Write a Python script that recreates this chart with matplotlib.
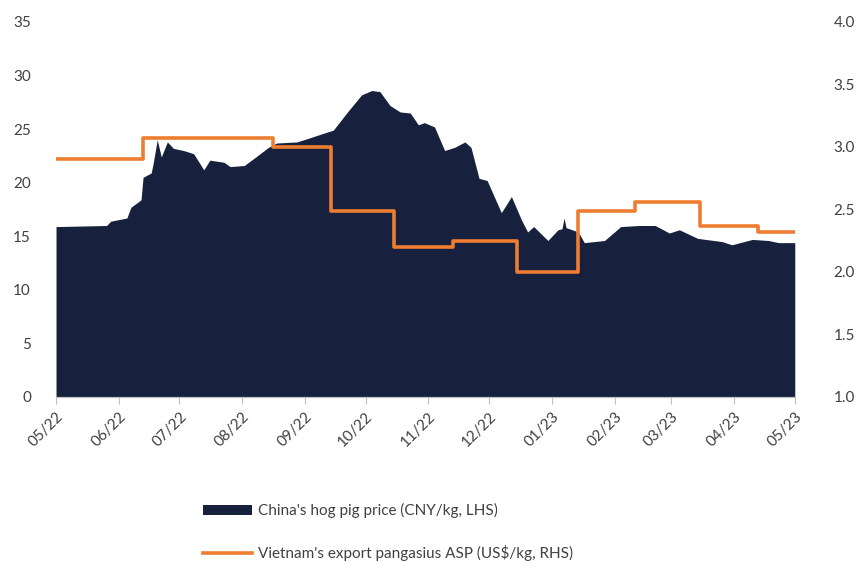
import matplotlib
matplotlib.use('Agg')
import matplotlib.pyplot as plt
import matplotlib.dates as mdates
import pandas as pd

# China hog pig price, CNY/kg
hog_dates = ['2022-05-01', '2022-05-26', '2022-05-28', '2022-06-05', '2022-06-07', '2022-06-12',
             '2022-06-13', '2022-06-17', '2022-06-18', '2022-06-20', '2022-06-22', '2022-06-25',
             '2022-06-28', '2022-07-03', '2022-07-08', '2022-07-13', '2022-07-16', '2022-07-23',
             '2022-07-26', '2022-08-02', '2022-08-07', '2022-08-14', '2022-08-18', '2022-08-28',
             '2022-09-02', '2022-09-10', '2022-09-15', '2022-09-22', '2022-09-29', '2022-10-04',
             '2022-10-08', '2022-10-13', '2022-10-18', '2022-10-23', '2022-10-27', '2022-10-30',
             '2022-11-04', '2022-11-09', '2022-11-14', '2022-11-19', '2022-11-22', '2022-11-26',
             '2022-11-30', '2022-12-07', '2022-12-12', '2022-12-17', '2022-12-20', '2022-12-23',
             '2022-12-30', '2023-01-04', '2023-01-06', '2023-01-07', '2023-01-08', '2023-01-14',
             '2023-01-17', '2023-01-27', '2023-02-04', '2023-02-13', '2023-02-21', '2023-02-28',
             '2023-03-05', '2023-03-14', '2023-03-26', '2023-03-31', '2023-04-10', '2023-04-18',
             '2023-04-23', '2023-05-01']
hog_price = [15.9, 16.0, 16.4, 16.7, 17.7, 18.4,
             20.5, 20.9, 21.8, 24.0, 22.4, 23.8,
             23.2, 23.0, 22.7, 21.2, 22.1, 21.9,
             21.5, 21.6, 22.3, 23.3, 23.7, 23.8,
             24.1, 24.6, 24.9, 26.6, 28.2, 28.6,
             28.5, 27.2, 26.6, 26.5, 25.4, 25.6,
             25.2, 23.0, 23.3, 23.8, 23.3, 20.4,
             20.2, 17.2, 18.7, 16.5, 15.4, 15.9,
             14.6, 15.6, 15.7, 16.7, 15.8, 15.4,
             14.4, 14.6, 15.9, 16.0, 16.0, 15.3,
             15.6, 14.8, 14.5, 14.2, 14.7, 14.6,
             14.4, 14.4]

# Vietnam export pangasius ASP, US$/kg (monthly steps)
asp_dates = ['2022-05-01', '2022-06-13', '2022-08-16', '2022-09-14', '2022-10-15', '2022-11-13',
             '2022-12-15', '2023-01-14', '2023-02-11', '2023-03-15', '2023-04-13', '2023-05-01']
asp_price = [2.90, 3.07, 3.00, 2.49, 2.20, 2.25, 2.00, 2.49, 2.56, 2.37, 2.32, 2.32]

month_ticks = pd.date_range('2022-05-01', '2023-05-01', freq='MS')

navy = '#17213D'
orange = '#ED7D31'
txt = '#404040'

plt.rcParams['font.family'] = ['Lato', 'DejaVu Sans']

fig = plt.figure(figsize=(8.62, 5.63), dpi=100)
ax1 = fig.add_axes([0.065, 0.295, 0.857, 0.666])
ax2 = ax1.twinx()

hd = pd.to_datetime(hog_dates)
ax1.fill_between(hd, hog_price, 0, color=navy, linewidth=0,
                 label="China's hog pig price (CNY/kg, LHS)")
ad = pd.to_datetime(asp_dates)
ax2.step(ad, asp_price, where='post', color=orange, linewidth=2.6,
         label="Vietnam's export pangasius ASP (US$/kg, RHS)")

ax1.set_xlim(pd.Timestamp('2022-05-01'), pd.Timestamp('2023-05-01'))
ax1.set_ylim(0, 35)
ax1.set_yticks(range(0, 36, 5))
ax2.set_ylim(1.0, 4.0)
ax2.set_yticks([1.0, 1.5, 2.0, 2.5, 3.0, 3.5, 4.0])
ax2.set_yticklabels([f'{v:.1f}' for v in ax2.get_yticks()])

ax1.set_xticks(month_ticks)
ax1.xaxis.set_major_formatter(mdates.DateFormatter('%m/%y'))
for lab in ax1.get_xticklabels():
    lab.set_rotation(45)
    lab.set_ha('right')
    lab.set_rotation_mode('anchor')

for ax in (ax1, ax2):
    for s in ('top', 'left', 'right'):
        ax.spines[s].set_visible(False)
    ax.spines['bottom'].set_color('#BFBFBF')
ax1.tick_params(axis='x', length=5, color='#BFBFBF', labelsize=11, labelcolor=txt, pad=4)
ax1.tick_params(axis='y', length=0, labelsize=11, labelcolor=txt, pad=18)
ax2.tick_params(axis='y', length=0, labelsize=11, labelcolor=txt, pad=28)

h1, l1 = ax1.get_legend_handles_labels()
h2, l2 = ax2.get_legend_handles_labels()
fig.legend(h1 + h2, l1 + l2, loc='upper left', bbox_to_anchor=(0.228, 0.117),
           frameon=False, fontsize=11, labelspacing=1.75, handlelength=3.2,
           handletextpad=0.4, labelcolor=txt, borderaxespad=0)

fig.savefig('out.png', dpi=100)
